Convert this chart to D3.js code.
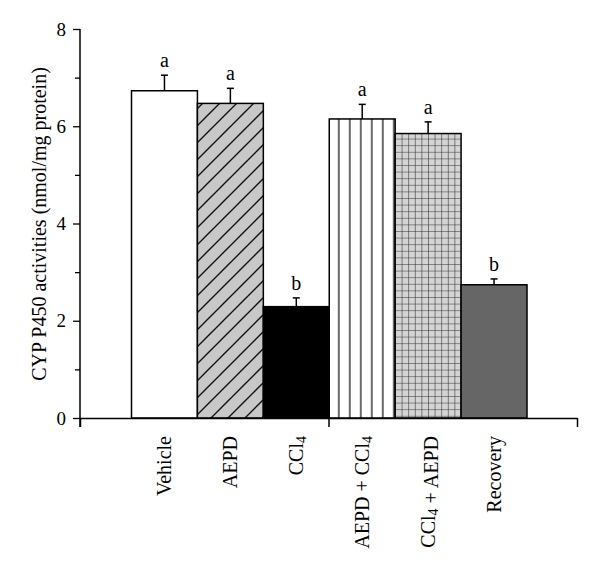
<!DOCTYPE html>
<html>
<head>
<meta charset="utf-8">
<script src="https://cdn.jsdelivr.net/npm/d3@7"></script>
<style>
html,body{margin:0;padding:0;background:#fff;}
text{font-family:"Liberation Serif","Times New Roman",serif;fill:#000;}
</style>
</head>
<body>
<svg id="chart" width="600" height="569"></svg>
<script>
const categories = ["Vehicle","AEPD","CCl4","AEPD + CCl4","CCl4 + AEPD","Recovery"];
const means = [6.73, 6.47, 2.29, 6.15, 5.85, 2.74];
const errors = [0.32, 0.31, 0.18, 0.30, 0.24, 0.12];
const letters = ["a","a","b","a","a","b"];
const fills = ["#ffffff","url(#diag)","#000000","url(#vert)","url(#grid)","#666666"];
const yTicks = [0,2,4,6,8];
const yMinor = [1,3,5,7];

const svg = d3.select("#chart");
const defs = svg.append("defs");

// diagonal hatch
const diag = defs.append("pattern").attr("id","diag").attr("patternUnits","userSpaceOnUse")
  .attr("width",17).attr("height",17);
diag.append("rect").attr("width",17).attr("height",17).attr("fill","#c8c8c8");
diag.append("path").attr("d","M-2,19 L19,-2 M-4,4 L4,-4 M13,21 L21,13").attr("stroke","#111").attr("stroke-width",1.4);

// vertical lines
const vert = defs.append("pattern").attr("id","vert").attr("patternUnits","userSpaceOnUse")
  .attr("width",11).attr("height",10).attr("x",328.5);
vert.append("rect").attr("width",11).attr("height",10).attr("fill","#fff");
vert.append("line").attr("x1",10.5).attr("x2",10.5).attr("y1",0).attr("y2",10).attr("stroke","#111").attr("stroke-width",1.5);

// grid crosshatch
const grid = defs.append("pattern").attr("id","grid").attr("patternUnits","userSpaceOnUse")
  .attr("width",6.6).attr("height",6.6).attr("x",395);
grid.append("rect").attr("width",6.6).attr("height",6.6).attr("fill","#d4d4d4");
grid.append("path").attr("d","M0,0 V6.6 M0,0 H6.6").attr("stroke","#2a2a2a").attr("stroke-width",1.1);

const y = d3.scaleLinear().domain([0,8]).range([418,29]);
const x = d3.scaleBand().domain(categories).range([131.5,527]).padding(0);
const xAxisScale = d3.scaleLinear().domain([0,1]).range([80,577]);

// bars
svg.selectAll("rect.bar").data(categories).join("rect")
  .attr("class","bar")
  .attr("x",d=>x(d))
  .attr("width",x.bandwidth())
  .attr("y",(d,i)=>y(means[i]))
  .attr("height",(d,i)=>y(0)-y(means[i]))
  .attr("fill",(d,i)=>fills[i])
  .attr("stroke","#000").attr("stroke-width",1.5);

// error bars
categories.forEach((c,i)=>{
  const cx = x(c)+x.bandwidth()/2;
  const top = y(means[i]+errors[i]);
  svg.append("line").attr("x1",cx).attr("x2",cx).attr("y1",y(means[i])).attr("y2",top)
    .attr("stroke","#000").attr("stroke-width",1.5);
  svg.append("line").attr("x1",cx-3.5).attr("x2",cx+3.5).attr("y1",top).attr("y2",top)
    .attr("stroke","#000").attr("stroke-width",1.5);
  svg.append("text").attr("x",cx).attr("y",top-8).attr("text-anchor","middle")
    .attr("font-size",20).text(letters[i]);
});

// y axis
const yAxis = svg.append("g").attr("transform","translate(80,0)")
  .call(d3.axisLeft(y).tickValues(yTicks).tickSize(7).tickPadding(7).tickFormat(d3.format("d")));
yAxis.select(".domain").remove();
yAxis.selectAll("line").attr("stroke","#000").attr("stroke-width",1.3);
yAxis.selectAll("text").attr("font-size",19).attr("font-family","Liberation Serif, serif");
svg.append("g").attr("transform","translate(80,0)")
  .call(d3.axisLeft(y).tickValues(yMinor).tickSize(5).tickFormat(""))
  .call(g=>g.select(".domain").remove())
  .selectAll("line").attr("stroke","#000").attr("stroke-width",1.3);
svg.append("line").attr("x1",80).attr("x2",80).attr("y1",y(8)).attr("y2",427)
  .attr("stroke","#000").attr("stroke-width",1.5);

// x axis
const xAxis = svg.append("g").attr("transform","translate(0,418)")
  .call(d3.axisBottom(xAxisScale).tickValues([0,0.5,1]).tickSize(9).tickSizeOuter(0).tickFormat(""));
xAxis.select(".domain").attr("stroke","#000").attr("stroke-width",1.5);
xAxis.selectAll("line").attr("stroke","#000").attr("stroke-width",1.5);

// x labels
categories.forEach(c=>{
  const cx = x(c)+x.bandwidth()/2;
  const t = svg.append("text").attr("transform",`translate(${cx+7},436) rotate(-90)`)
    .attr("text-anchor","end").attr("font-size",20);
  const parts = c.split("CCl4");
  parts.forEach((p,k)=>{
    if(p) t.append("tspan").text(p);
    if(k<parts.length-1){
      t.append("tspan").text("CCl");
      t.append("tspan").attr("font-size",14).attr("dy",3).text("4");
      t.append("tspan").attr("dy",-3).text("");
    }
  });
});

// y label
svg.append("text").attr("transform","translate(46,224) rotate(-90)")
  .attr("text-anchor","middle").attr("font-size",20)
  .text("CYP P450 activities (nmol/mg protein)");
</script>
</body>
</html>
